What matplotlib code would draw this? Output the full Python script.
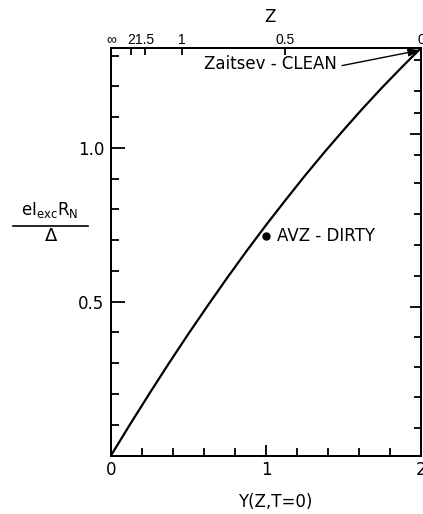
import matplotlib.pyplot as plt
from matplotlib.lines import Line2D

# excess current against Y(Z, T=0)
y_param = [0, 0.125, 0.25, 0.375, 0.5, 0.625, 0.75, 0.875, 1.0,
           1.125, 1.25, 1.375, 1.5, 1.625, 1.75, 1.875, 2.0]
i_exc = [0, 0.103, 0.203, 0.301, 0.396, 0.488, 0.578, 0.665, 0.749,
         0.830, 0.909, 0.985, 1.058, 1.129, 1.197, 1.262, 1.325]

# dirty-limit point
avz_y = 1.0
avz_i = 0.715

# barrier strength Z along the top, placed at the Y it gives
z_labels = ['\u221e', '2', '1.5', '1', '0.5', '0']
z_at_y = [0, 0.129, 0.219, 0.458, 1.123, 2.0]

# ticks of the right-hand scale (no labels)
right_minor = [0.089, 0.189, 0.288, 0.385, 0.584, 0.685, 0.784, 0.885,
               0.977, 1.115, 1.186, 1.286]
right_major = [0.484, 1.045]

W, H = 423, 514
LW = 1.3

fig = plt.figure(figsize=(W / 100, H / 100), dpi=100)
ax = fig.add_axes([111 / W, 58.5 / H, 310 / W, 407.5 / H])

ax.plot(y_param, i_exc, color='black', lw=1.6)
ax.plot(avz_y, avz_i, 'o', color='black', ms=5)
ax.text(avz_y + 0.07, avz_i, 'AVZ - DIRTY', va='center', fontsize=12)

ax.annotate('Zaitsev - CLEAN', xy=(1.995, 1.318), xytext=(1.026, 1.273),
            ha='center', va='center', fontsize=12,
            arrowprops=dict(arrowstyle='-|>,head_length=0.6,head_width=0.2',
                            color='black', lw=1.0, relpos=(1.0, 0.35),
                            shrinkA=2, shrinkB=0))

ax.set_xlim(0, 2)
ax.set_ylim(0, 1.325)
ax.set_xticks([0, 1, 2])
ax.set_xticks([0.2, 0.4, 0.6, 0.8, 1.2, 1.4, 1.6, 1.8], minor=True)
ax.set_yticks([0.5, 1.0], ['0.5', '1.0'])
ax.set_yticks([0.1, 0.2, 0.3, 0.4, 0.6, 0.7, 0.8, 0.9, 1.1, 1.2, 1.3],
              minor=True)
ax.tick_params(axis='both', which='both', direction='in', width=LW,
               labelsize=12, top=False, right=False)
ax.tick_params(axis='y', which='major', length=10, pad=5)
ax.tick_params(axis='y', which='minor', length=6)
ax.tick_params(axis='x', which='major', length=8, pad=4)
ax.tick_params(axis='x', which='minor', length=6)

# Z scale on top
top = ax.twiny()
top.set_xlim(0, 2)
top.set_xticks(z_at_y, z_labels)
top.tick_params(axis='x', direction='in', length=5, width=LW, pad=1,
                labelsize=10)
for lab in top.get_xticklabels():
    lab.set_family(['Liberation Sans', 'DejaVu Sans'])

# unlabelled scale on the right
rt = ax.twinx()
rt.set_ylim(0, 1.325)
rt.set_yticks(right_major, ['', ''])
rt.set_yticks(right_minor, minor=True)
rt.tick_params(axis='y', which='both', direction='in', width=LW,
               labelright=False)
rt.tick_params(axis='y', which='major', length=8)
rt.tick_params(axis='y', which='minor', length=5)

for a in (ax, top, rt):
    for s in a.spines.values():
        s.set_linewidth(LW)

# axis titles
fig.text(270 / W, 1 - 17 / H, 'Z', ha='center', va='center', fontsize=12)
fig.text(275 / W, 1 - 502 / H, 'Y(Z,T=0)', ha='center', va='center',
         fontsize=12)

# y label drawn as a fraction
fig.text(50 / W, 1 - 215 / H, r'$\mathregular{eI_{exc}R_N}$',
         ha='center', va='baseline', fontsize=12)
fig.add_artist(Line2D([13 / W, 88 / W], [1 - 226 / H, 1 - 226 / H],
                      transform=fig.transFigure, color='black', lw=1.2))
fig.text(51 / W, 1 - 236 / H, '\u0394', ha='center', va='center',
         fontsize=13)

fig.savefig('out.png', dpi=100)
